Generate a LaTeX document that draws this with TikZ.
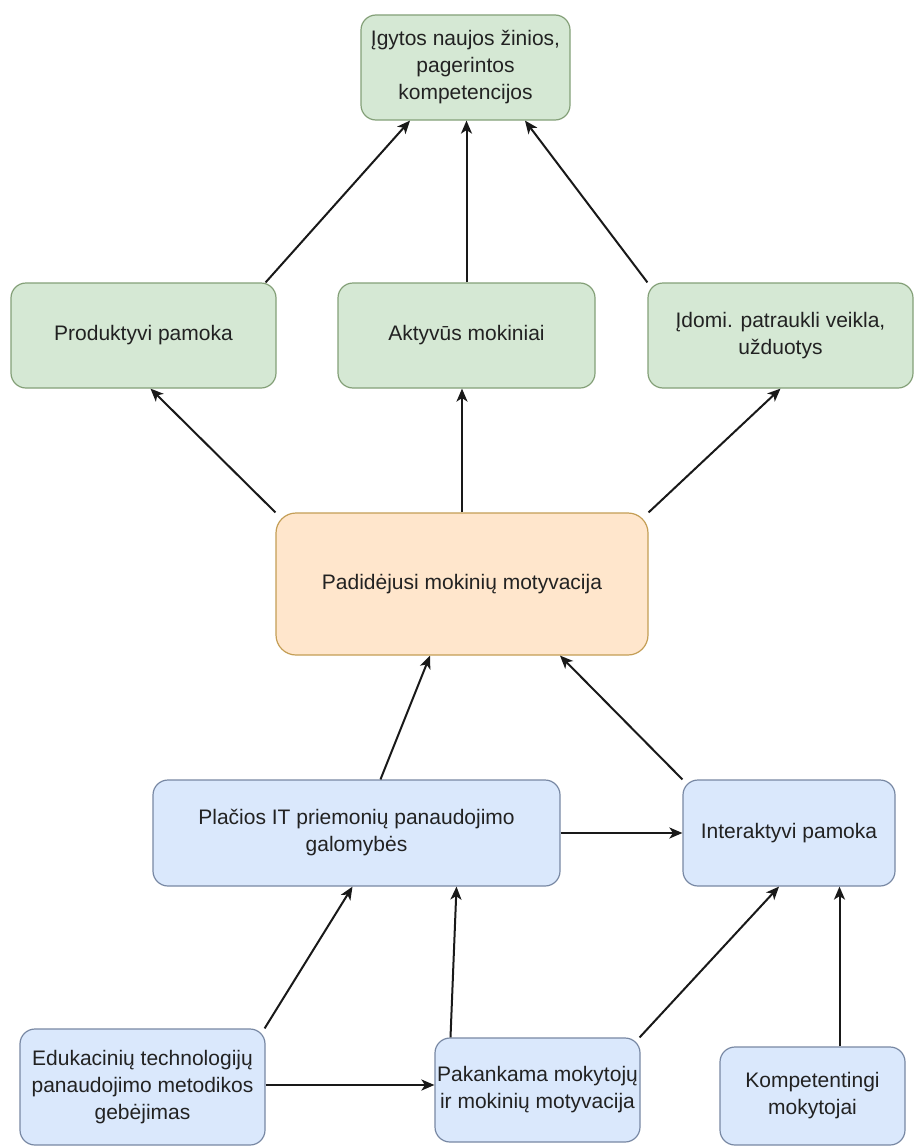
\documentclass[tikz,border=0pt]{standalone}
\usepackage{fontspec}
\setmainfont{Liberation Sans}
\usetikzlibrary{arrows.meta,calc}

\definecolor{gfill}{HTML}{D5E8D4}
\definecolor{gline}{HTML}{84A078}
\definecolor{ofill}{HTML}{FFE6CC}
\definecolor{oline}{HTML}{C49E55}
\definecolor{bfill}{HTML}{DAE8FC}
\definecolor{bline}{HTML}{7888A4}
\definecolor{ink}{HTML}{222222}

\tikzset{
  box/.style={rectangle, rounded corners=15pt, line width=1.2pt, align=center,
    inner sep=0pt, text=ink, font=\fontsize{21}{27}\selectfont},
  greenbox/.style={box, fill=gfill, draw=gline},
  orangebox/.style={box, fill=ofill, draw=oline, rounded corners=20pt},
  bluebox/.style={box, fill=bfill, draw=bline},
  arr/.style={-{Stealth[length=13pt,width=11pt,inset=3.5pt]}, line width=2pt, draw=black!90}
}

\begin{document}
\begin{tikzpicture}[x=1pt,y=-1pt]
\fill[white] (0,0) rectangle (921,1148);
\useasboundingbox (0,0) rectangle (921,1148);

% outcome row
\node[greenbox, minimum width=209pt, minimum height=105pt] (top) at (465.5,67.5)
  {Įgytos naujos žinios,\\pagerintos\\kompetencijos};

% effects row
\node[greenbox, minimum width=265pt, minimum height=105pt] (prod) at (143.5,335.5) {Produktyvi pamoka};
\node[greenbox, minimum width=257pt, minimum height=105pt] (akt) at (466.5,335.5) {Aktyvūs mokiniai};
\node[greenbox, minimum width=265pt, minimum height=105pt] (idomi) at (780.5,335.5) {Įdomi. patraukli veikla,\\užduotys};

% central node
\node[orangebox, minimum width=372pt, minimum height=142pt] (pad) at (462,584) {Padidėjusi mokinių motyvacija};

% causes
\node[bluebox, minimum width=407pt, minimum height=106pt] (plac) at (356.5,833)
  {Plačios IT priemonių panaudojimo\\galomybės};
\node[bluebox, minimum width=212pt, minimum height=106pt] (inter) at (789,833) {Interaktyvi pamoka};

% root causes
\node[bluebox, minimum width=245pt, minimum height=116pt] (edu) at (142.5,1087)
  {Edukacinių technologijų\\panaudojimo metodikos\\gebėjimas};
\node[bluebox, minimum width=205pt, minimum height=104pt] (pak) at (537.5,1090)
  {Pakankama mokytojų\\ir mokinių motyvacija};
\node[bluebox, minimum width=185pt, minimum height=98pt] (komp) at (812.5,1096)
  {Kompetentingi\\mokytojai};

% connectors into the outcome
\draw[arr] ([xshift=-11pt]prod.north east) -- ([xshift=-55.5pt]top.south);
\draw[arr] (akt.north) -- (akt.north |- top.south);
\draw[arr] (idomi.north west) -- ([xshift=59.5pt]top.south);

% connectors out of the central node
\draw[arr] (pad.north west) -- ([xshift=7pt]prod.south);
\draw[arr] (pad.north) -- (pad.north |- akt.south);
\draw[arr] (pad.north east) -- (idomi.south);

% connectors into the central node
\draw[arr] ([xshift=24pt]plac.north) -- ([xshift=-32pt]pad.south);
\draw[arr] (inter.north west) -- ([xshift=98pt]pad.south);
\draw[arr] (plac.east) -- (inter.west);

% connectors from the root causes
\draw[arr] ([xshift=-1pt]edu.north east) -- ([xshift=-4pt]plac.south);
\draw[arr] ([xshift=-87pt]pak.north) -- ([xshift=100pt]plac.south);
\draw[arr] ([xshift=-1pt]pak.north east) -- ([xshift=-10pt]inter.south);
\draw[arr] ([xshift=27pt]komp.north) -- ([xshift=27pt]komp.north |- inter.south);
\draw[arr] ([yshift=2pt]edu.east) -- ([yshift=2pt]edu.east -| pak.west);
\end{tikzpicture}
\end{document}
